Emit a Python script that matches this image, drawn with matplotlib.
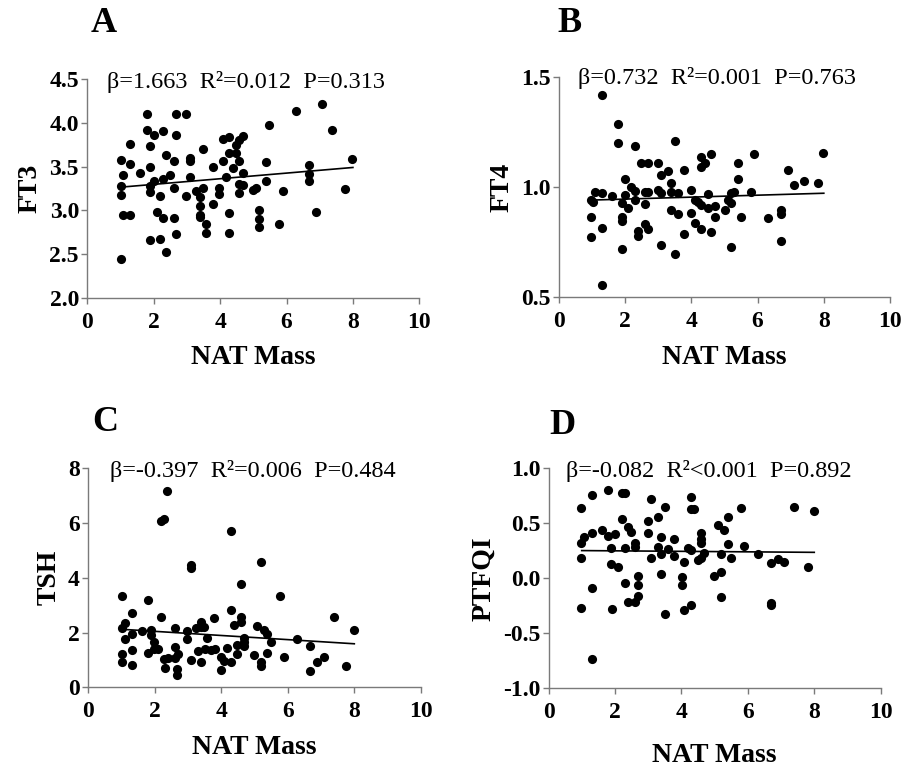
import numpy as np
import matplotlib
matplotlib.use("Agg")
import matplotlib.pyplot as plt

plt.rcParams['font.family'] = ['Liberation Serif', 'DejaVu Serif']

# ---------------- data ----------------
a_x = [1.0, 1.0, 1.0, 1.0, 1.08, 1.08, 1.3, 1.3, 1.3, 1.6, 1.8, 1.8, 1.88, 1.88, 1.88, 1.88, 1.88,
       2.0, 2.0, 2.1, 2.18, 2.18, 2.28, 2.28, 2.28, 2.38, 2.38, 2.48, 2.6, 2.6, 2.6, 2.68, 2.68, 2.68,
       2.98, 2.98, 3.08, 3.08, 3.08, 3.28, 3.38, 3.38, 3.38, 3.38, 3.48, 3.48, 3.58, 3.58, 3.78, 3.78,
       3.98, 3.98, 4.08, 4.08, 4.18, 4.28, 4.28, 4.28, 4.28, 4.38, 4.48, 4.48, 4.58, 4.68, 4.58, 4.68,
       4.58, 4.68, 4.58, 4.98, 5.08, 5.18, 5.18, 5.18, 5.38, 5.38, 5.48, 5.78, 5.88, 6.28, 6.68, 6.68,
       6.68, 6.88, 7.08, 7.38, 7.76, 7.98]
a_y = [2.44, 3.57, 3.28, 3.18, 3.40, 2.95, 2.95, 3.76, 3.53, 3.43, 4.10, 3.92, 3.73, 3.49, 3.28, 3.21, 2.66,
       3.86, 3.34, 2.98, 3.16, 2.67, 3.91, 3.36, 2.91, 3.63, 2.53, 3.40, 3.26, 3.56, 2.91, 4.10, 3.86, 2.73,
       4.10, 3.17, 3.60, 3.56, 3.38, 3.22, 3.15, 3.05, 2.95, 2.92, 3.26, 3.70, 2.84, 2.74, 3.50, 3.07,
       3.25, 3.19, 3.81, 3.56, 3.38, 3.84, 2.97, 2.74, 3.65, 3.48, 3.75, 3.66, 3.80, 3.85, 3.56, 3.43,
       3.30, 3.29, 3.20, 3.23, 3.26, 3.00, 2.90, 2.81, 3.55, 3.33, 3.97, 2.84, 3.22, 4.14, 3.52, 3.42,
       3.34, 2.98, 4.21, 3.92, 3.24, 3.59]
a_fit = [3.265, 3.49]

b_x = [1.29, 0.98, 0.98, 0.98, 1.03, 1.08, 1.29, 1.29, 1.29, 1.59, 1.79, 1.79, 1.89, 1.89, 1.89, 1.89,
       1.99, 1.99, 2.09, 2.19, 2.29, 2.29, 2.29, 2.39, 2.39, 2.49, 2.59, 2.59, 2.59, 2.69, 2.69, 2.69,
       2.99, 2.99, 3.09, 3.09, 3.09, 3.29, 3.39, 3.39, 3.39, 3.49, 3.49, 3.59, 3.59, 3.78, 3.78, 3.99,
       3.99, 4.10, 4.10, 4.20, 4.30, 4.30, 4.30, 4.30, 4.40, 4.50, 4.50, 4.60, 4.60, 4.70, 4.70, 5.00,
       5.10, 5.20, 5.20, 5.20, 5.30, 5.40, 5.40, 5.50, 5.80, 5.90, 6.31, 6.71, 6.71, 6.71, 6.91, 7.11,
       7.41, 7.81, 7.99]
b_y = [1.42, 0.942, 0.867, 0.776, 0.932, 0.977, 0.973, 0.817, 0.556, 0.961, 1.29, 1.20, 0.927, 0.867,
       0.847, 0.718, 1.038, 0.965, 0.908, 1.003, 1.19, 0.983, 0.942, 0.80, 0.78, 1.109, 0.98, 0.923,
       0.832, 1.109, 0.98, 0.809, 1.109, 0.988, 1.056, 0.973, 0.738, 1.074, 1.018, 0.98, 0.897, 1.21,
       0.697, 0.973, 0.877, 1.079, 0.788, 0.988, 0.882, 0.942, 0.839, 0.932, 1.139, 1.094, 0.920, 0.809,
       1.109, 0.968, 0.908, 1.15, 0.798, 0.917, 0.867, 0.897, 0.942, 0.973, 0.927, 0.727, 0.98, 1.109,
       1.038, 0.867, 0.98, 1.15, 0.859, 0.897, 0.877, 0.758, 1.079, 1.011, 1.029, 1.018, 1.158]
b_fit = [0.942, 0.973]

c_x = [1.0, 1.0, 1.0, 1.0, 1.1, 1.1, 1.3, 1.3, 1.3, 1.3, 1.6, 1.8, 1.8, 1.88, 1.88, 1.98, 1.98, 2.1,
       2.18, 2.28, 2.18, 2.28, 2.3, 2.38, 2.4, 2.6, 2.6, 2.6, 2.68, 2.68, 2.7, 2.98, 2.98, 3.08, 3.08,
       3.08, 3.23, 3.3, 3.38, 3.38, 3.4, 3.48, 3.5, 3.58, 3.68, 3.78, 3.8, 3.98, 4.0, 4.08, 4.18, 4.28,
       4.28, 4.28, 4.38, 4.48, 4.48, 4.58, 4.58, 4.58, 4.68, 4.68, 4.68, 4.98, 5.08, 5.18, 5.18, 5.18,
       5.28, 5.38, 5.38, 5.48, 5.78, 5.88, 6.28, 6.68, 6.68, 6.88, 7.08, 7.38, 7.75, 7.98]
c_y = [3.34, 2.16, 1.22, 0.92, 2.36, 1.76, 2.71, 1.94, 1.37, 0.80, 2.04, 3.19, 1.27, 2.10, 1.91, 1.64,
       1.39, 1.39, 6.09, 6.15, 2.55, 1.03, 0.70, 7.18, 1.06, 2.16, 1.49, 1.06, 0.66, 0.46, 1.21, 2.04,
       1.76, 4.47, 4.35, 1.00, 2.16, 1.31, 2.40, 2.22, 0.91, 2.22, 1.39, 1.79, 1.37, 2.52, 1.40, 1.12,
       0.64, 0.97, 1.43, 5.72, 2.83, 0.94, 2.28, 1.55, 1.22, 3.76, 2.58, 2.40, 1.79, 1.64, 1.51, 1.18,
       2.24, 4.59, 0.94, 0.76, 2.10, 1.94, 1.27, 1.64, 3.34, 1.12, 1.76, 1.51, 0.61, 0.94, 1.12, 2.58,
       0.76, 2.10]
c_fit = [2.12, 1.59]

d_x = [0.99, 0.99, 0.99, 0.99, 1.07, 1.30, 1.30, 1.30, 1.30, 1.60, 1.80, 1.80, 1.88, 1.88, 1.90, 2.01,
       2.10, 2.20, 2.20, 2.30, 2.30, 2.30, 2.38, 2.48, 2.60, 2.60, 2.38, 2.60, 2.70, 2.70, 2.70, 3.00,
       3.00, 3.10, 3.10, 3.30, 3.30, 3.40, 3.40, 3.40, 3.50, 3.50, 3.60, 3.79, 3.79, 4.01, 4.01, 4.09,
       4.09, 4.19, 4.29, 4.29, 4.39, 4.29, 4.29, 4.49, 4.59, 4.59, 4.59, 4.59, 4.69, 4.99, 5.09, 5.19,
       5.19, 5.19, 5.29, 5.39, 5.39, 5.49, 5.79, 5.89, 6.30, 6.70, 6.70, 6.70, 6.90, 7.10, 7.40, 7.80,
       8.00]
d_y = [0.642, 0.318, 0.182, -0.273, 0.373, 0.758, 0.415, -0.085, -0.736, 0.439, 0.803, 0.385, 0.273,
       0.130, -0.282, 0.403, 0.100, 0.773, 0.539, 0.773, 0.273, -0.045, 0.464, 0.424, 0.324, 0.288,
       -0.212, -0.212, 0.021, -0.061, -0.161, 0.521, 0.415, 0.718, 0.182, 0.561, 0.288, 0.379, 0.039,
       0.221, 0.645, -0.324, 0.264, 0.355, 0.203, 0.009, -0.061, 0.152, -0.288, 0.273, 0.742, 0.627,
       0.627, 0.258, -0.242, 0.167, 0.409, 0.355, 0.318, 0.182, 0.227, 0.021, 0.485, 0.061, 0.218,
       -0.167, 0.439, 0.561, 0.312, 0.182, 0.642, 0.294, 0.221, 0.136, -0.221, -0.242, 0.173, 0.152,
       0.652, 0.100, 0.612]
d_fit = [0.252, 0.236]

fit_x = [1.0, 8.0]

panel_letters = ["A", "B", "C", "D"]
y_labels = ["FT3", "FT4", "TSH", "PTFQI"]
x_label = "NAT Mass"
stats_texts = ["\u03b2=1.663  R\u00b2=0.012  P=0.313",
               "\u03b2=0.732  R\u00b2=0.001  P=0.763",
               "\u03b2=-0.397  R\u00b2=0.006  P=0.484",
               "\u03b2=-0.082  R\u00b2<0.001  P=0.892"]
x_ticks = [0, 2, 4, 6, 8, 10]
y_ticks_list = [[2.0, 2.5, 3.0, 3.5, 4.0, 4.5],
                [0.5, 1.0, 1.5],
                [0, 2, 4, 6, 8],
                [-1.0, -0.5, 0.0, 0.5, 1.0]]
y_fmt = ["{:.1f}", "{:.1f}", "{:.0f}", "{:.1f}"]

# ---------------- layout ----------------
W, H = 906, 774
fig = plt.figure(figsize=(W / 100, H / 100), dpi=100)

# left, right, top, bottom in pixels
boxes = [(87.3, 419.3, 79.0, 298.0),
         (559.0, 890.0, 77.3, 297.3),
         (88.3, 420.8, 468.3, 687.3),
         (548.5, 880.7, 468.3, 688.3)]
text_off = [(20, 9), (19, 7), (22, 9), (17, 8.5)]
letter_pos = [(104, 23), (570, 23), (105, 422), (562, 426)]
xlabel_pad = [9, 9, 9, 14]

series = [(a_x, a_y, a_fit), (b_x, b_y, b_fit), (c_x, c_y, c_fit), (d_x, d_y, d_fit)]
grey = "#7a7a7a"

for i, (bx, (xs, ys, fit)) in enumerate(zip(boxes, series)):
    l, r, t, b = bx
    ax = fig.add_axes([l / W, 1 - b / H, (r - l) / W, (b - t) / H])
    ax.plot(xs, ys, 'o', color='black', markersize=6.6, markeredgewidth=0, zorder=3)
    ax.plot(fit_x, fit, '-', color='black', linewidth=1.2, zorder=4)
    yt = y_ticks_list[i]
    ax.set_xlim(0, 10)
    ax.set_ylim(yt[0], yt[-1])
    ax.set_xticks(x_ticks)
    ax.set_xticklabels([str(v) for v in x_ticks])
    ax.set_yticks(yt)
    ax.set_yticklabels([y_fmt[i].format(v) for v in yt])
    for s in ['top', 'right']:
        ax.spines[s].set_visible(False)
    for s in ['left', 'bottom']:
        ax.spines[s].set_color(grey)
        ax.spines[s].set_linewidth(1.0)
    ax.tick_params(axis='both', direction='out', length=4, width=1.0, color=grey,
                   labelsize=17, labelcolor='black')
    ax.tick_params(axis='x', pad=6)
    ax.tick_params(axis='y', pad=2)
    for lab in ax.get_xticklabels() + ax.get_yticklabels():
        lab.set_fontweight('bold')
    ax.set_xlabel(x_label, fontsize=20, fontweight='bold', labelpad=xlabel_pad[i])
    ax.set_ylabel(y_labels[i], fontsize=20, fontweight='bold', labelpad=5)
    dx, dy = text_off[i]
    ax.annotate(stats_texts[i], xy=(0, 1), xycoords='axes fraction',
                xytext=(dx * 0.72, -dy * 0.72), textcoords='offset points',
                ha='left', va='baseline', fontsize=17.5)
    lx, ly = letter_pos[i]
    fig.text(lx / W, 1 - ly / H, panel_letters[i], fontsize=26, fontweight='bold',
             ha='center', va='center')

fig.savefig("out.png", dpi=100)
